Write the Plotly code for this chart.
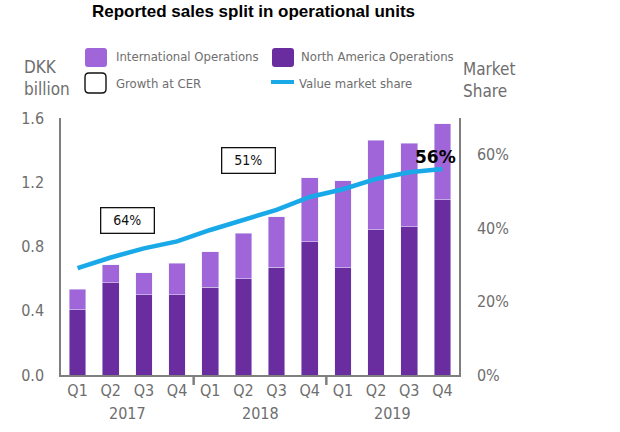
import plotly.graph_objects as go

quarters = ["Q1", "Q2", "Q3", "Q4"] * 3
years = ["2017", "2018", "2019"]
north_america = [0.405, 0.573, 0.50, 0.50, 0.546, 0.598, 0.671, 0.830, 0.668, 0.903, 0.924, 1.092]
international = [0.130, 0.112, 0.137, 0.195, 0.222, 0.284, 0.315, 0.399, 0.542, 0.560, 0.519, 0.471]
market_share = [0.291, 0.320, 0.345, 0.364, 0.395, 0.423, 0.450, 0.485, 0.506, 0.534, 0.552, 0.561]
growth_labels = ["64%", "51%", "42%"]
growth_x = [1.5, 5.15, 9.43]
growth_y = [0.965, 1.333, 1.619]

FONT = "DejaVu Sans Condensed, DejaVu Sans"
GRAY = "#6e6e6e"
AXIS = "#7f7f7f"
LIGHT = "#a066d9"
DARK = "#6a2da0"
BLUE = "#19a9e8"

L, R, T, B = 61, 459, 118, 375
def px(x):
    return (x - L) / (R - L)
def py(y):
    return (B - y) / (B - T)

def rounded(x0, y0, x1, y1, r=4):
    # rounded rectangle path in paper coords, from pixel corners
    pts = []
    def P(x, y):
        return "%f,%f" % (px(x), py(y))
    return ("M %s L %s Q %s %s L %s Q %s %s L %s Q %s %s L %s Q %s %s Z" % (
        P(x0 + r, y0), P(x1 - r, y0), P(x1, y0), P(x1, y0 + r), P(x1, y1 - r),
        P(x1, y1), P(x1 - r, y1), P(x0 + r, y1), P(x0, y1), P(x0, y1 - r),
        P(x0, y0 + r), P(x0, y0), P(x0 + r, y0)))

xs = list(range(len(quarters)))

fig = go.Figure()
fig.add_trace(go.Bar(x=xs, y=north_america, marker_color=DARK, width=0.5,
                     name="North America Operations", showlegend=False))
fig.add_trace(go.Bar(x=xs, y=international, marker_color=LIGHT, width=0.5,
                     name="International Operations", showlegend=False))
fig.add_trace(go.Scatter(x=xs, y=market_share, yaxis="y2", mode="lines",
                         line=dict(color=BLUE, width=4.5), showlegend=False))

def label(x, y, text, size=13, color=GRAY, anchor="left", family=FONT):
    return dict(x=px(x), y=py(y), xref="paper", yref="paper", text=text,
                showarrow=False, xanchor=anchor, yanchor="middle", align="left",
                font=dict(family=family, size=size, color=color))

annotations = []
for lbl, gx, gy in zip(growth_labels, growth_x, growth_y):
    annotations.append(dict(x=gx, y=gy, xref="x", yref="y", text=lbl, showarrow=False,
                            font=dict(family=FONT, size=14, color="#111"),
                            bordercolor="#111", borderwidth=1.3, borderpad=4,
                            bgcolor="white", width=44, height=16))
annotations.append(dict(x=len(xs) - 1, y=market_share[-1], xref="x", yref="y2",
                        text="<b>%d%%</b>" % round(market_share[-1] * 100),
                        showarrow=False, xshift=-7, yshift=12,
                        font=dict(family="DejaVu Sans", size=17, color="black")))
for i, yr in enumerate(years):
    annotations.append(dict(x=4 * i + 1.5, y=py(413), xref="x", yref="paper", text=yr,
                            showarrow=False, yanchor="middle",
                            font=dict(family=FONT, size=16, color=GRAY)))
annotations += [
    label(253, 12, "<b>Reported sales split in operational units</b>", size=17,
          color="black", anchor="center", family="Liberation Sans, Arial"),
    label(22, 78, "DKK<br>billion", size=17),
    label(461, 80, "Market<br>Share", size=17),
    label(114, 57, "International Operations"),
    label(299, 57, "North America Operations"),
    label(114, 83, "Growth at CER"),
    label(297, 83, "Value market share"),
]

shapes = [
    dict(type="path", xref="paper", yref="paper", path=rounded(85, 48, 107, 67, 3),
         fillcolor=LIGHT, line=dict(width=0)),
    dict(type="path", xref="paper", yref="paper", path=rounded(272, 48, 294, 67, 3),
         fillcolor=DARK, line=dict(width=0)),
    dict(type="path", xref="paper", yref="paper", path=rounded(85, 73, 106, 93, 4),
         fillcolor="white", line=dict(color="#111", width=1.4)),
    dict(type="line", xref="paper", yref="paper", x0=px(271), x1=px(294), y0=py(82), y1=py(82),
         line=dict(color=BLUE, width=4)),
    dict(type="line", xref="x", yref="paper", x0=3.5, x1=3.5, y0=0, y1=py(385),
         line=dict(color=AXIS, width=2.5)),
    dict(type="line", xref="x", yref="paper", x0=7.5, x1=7.5, y0=0, y1=py(385),
         line=dict(color=AXIS, width=2.5)),
]

fig.update_layout(
    width=620, height=432,
    margin=dict(l=L, r=620 - R, t=T, b=432 - B, pad=0, autoexpand=False),
    paper_bgcolor="white", plot_bgcolor="white",
    barmode="stack", bargap=0.5,
    xaxis=dict(range=[-0.5, len(xs) - 0.5], tickvals=xs, ticktext=quarters,
               automargin=False, showgrid=False, zeroline=False, showline=True,
               linecolor=AXIS, linewidth=1.5,
               ticks="", tickfont=dict(family=FONT, size=16, color=GRAY)),
    yaxis=dict(range=[0, 1.6], tickvals=[0, 0.4, 0.8, 1.2, 1.6], tickformat=".1f",
               automargin=False, showgrid=False, zeroline=False, showline=True,
               linecolor=AXIS, linewidth=1.5, ticks="", ticklabelstandoff=12,
               tickfont=dict(family=FONT, size=16, color=GRAY)),
    yaxis2=dict(range=[0, 0.7], tickvals=[0, 0.2, 0.4, 0.6], tickformat=".0%",
                overlaying="y", side="right", automargin=False, showgrid=False,
                zeroline=False, showline=True, linecolor=AXIS, linewidth=1.5,
                ticks="", ticklabelstandoff=13,
                tickfont=dict(family=FONT, size=16, color=GRAY)),
    annotations=annotations, shapes=shapes, showlegend=False,
)

fig.write_html("out.html")
